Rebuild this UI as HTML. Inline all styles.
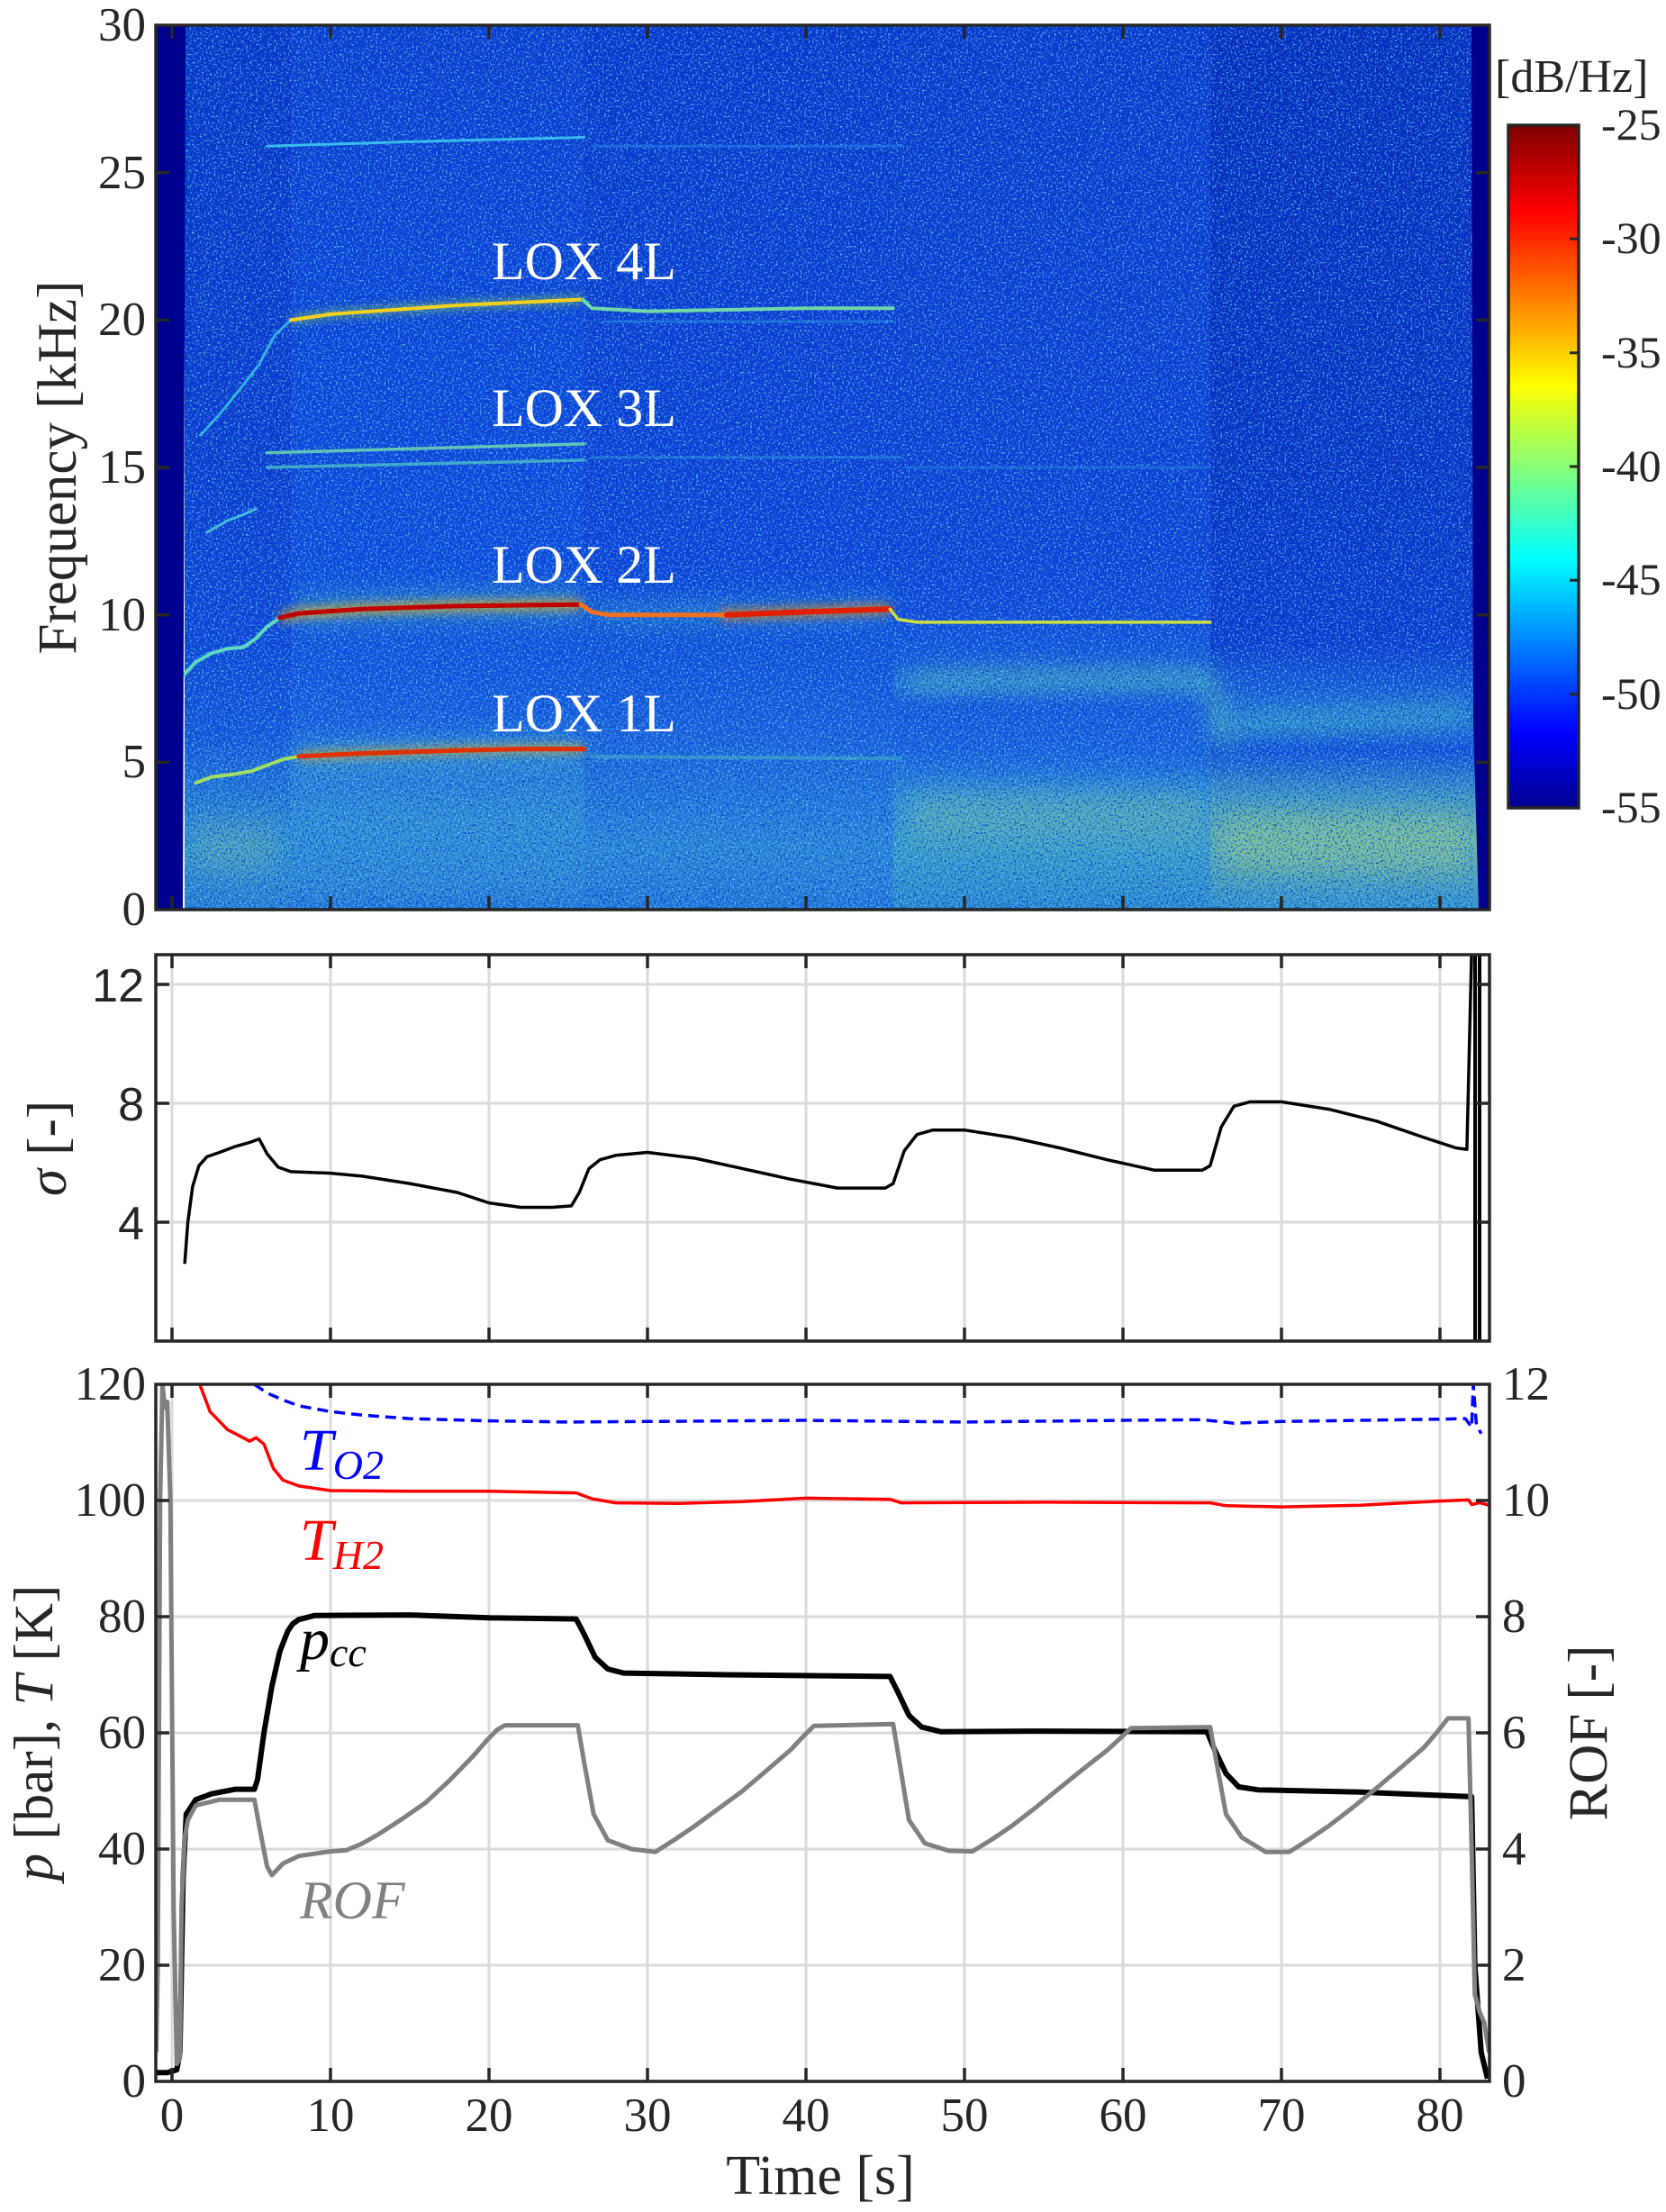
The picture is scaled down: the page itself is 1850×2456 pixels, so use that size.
<!DOCTYPE html>
<html>
<head>
<meta charset="utf-8">
<style>
html,body{margin:0;padding:0;background:#fff;}
svg{display:block;}
</style>
</head>
<body>
<svg width="1850" height="2456" viewBox="0 0 1850 2456" xmlns="http://www.w3.org/2000/svg">
<defs>
  <linearGradient id="gA" x1="0" y1="28" x2="0" y2="1010" gradientUnits="userSpaceOnUse">
    <stop offset="0" stop-color="#0a3cd0"/>
    <stop offset="0.267" stop-color="#0b42d8"/>
    <stop offset="0.6" stop-color="#0e4ade"/>
    <stop offset="0.733" stop-color="#1456e0"/>
    <stop offset="0.807" stop-color="#1a64e0"/>
    <stop offset="0.833" stop-color="#2476dc"/>
    <stop offset="0.9" stop-color="#3290d4"/>
    <stop offset="0.967" stop-color="#2e88d6"/>
    <stop offset="1" stop-color="#2478d8"/>
  </linearGradient>
  <linearGradient id="gA1" x1="0" y1="28" x2="0" y2="1010" gradientUnits="userSpaceOnUse">
    <stop offset="0" stop-color="#0834c8"/>
    <stop offset="0.5" stop-color="#0a3ad0"/>
    <stop offset="0.7" stop-color="#0e46d8"/>
    <stop offset="0.8" stop-color="#1656dc"/>
    <stop offset="0.85" stop-color="#2070d8"/>
    <stop offset="0.93" stop-color="#3494cc"/>
    <stop offset="1" stop-color="#2a80d4"/>
  </linearGradient>
  <linearGradient id="gB" x1="0" y1="28" x2="0" y2="1010" gradientUnits="userSpaceOnUse">
    <stop offset="0" stop-color="#0836cc"/>
    <stop offset="0.33" stop-color="#0a3cd2"/>
    <stop offset="0.6" stop-color="#0c42d8"/>
    <stop offset="0.73" stop-color="#1454dc"/>
    <stop offset="0.8" stop-color="#1a62de"/>
    <stop offset="0.85" stop-color="#2070dc"/>
    <stop offset="0.93" stop-color="#2c86d8"/>
    <stop offset="1" stop-color="#2478d8"/>
  </linearGradient>
  <linearGradient id="gC" x1="0" y1="28" x2="0" y2="1010" gradientUnits="userSpaceOnUse">
    <stop offset="0" stop-color="#0938cc"/>
    <stop offset="0.6" stop-color="#0c42d6"/>
    <stop offset="0.66" stop-color="#1048da"/>
    <stop offset="0.72" stop-color="#1658dc"/>
    <stop offset="0.745" stop-color="#2478d8"/>
    <stop offset="0.77" stop-color="#1658dc"/>
    <stop offset="0.82" stop-color="#1862de"/>
    <stop offset="0.87" stop-color="#2e8ad4"/>
    <stop offset="0.93" stop-color="#3ea2c8"/>
    <stop offset="1" stop-color="#2c8ad0"/>
  </linearGradient>
  <linearGradient id="gD" x1="0" y1="28" x2="0" y2="1010" gradientUnits="userSpaceOnUse">
    <stop offset="0" stop-color="#062cbc"/>
    <stop offset="0.5" stop-color="#0832c4"/>
    <stop offset="0.7" stop-color="#0a3ace"/>
    <stop offset="0.77" stop-color="#1e6cd8"/>
    <stop offset="0.79" stop-color="#2278d6"/>
    <stop offset="0.82" stop-color="#1450d8"/>
    <stop offset="0.87" stop-color="#3e96c4"/>
    <stop offset="0.92" stop-color="#62b2ac"/>
    <stop offset="0.97" stop-color="#48a0c0"/>
    <stop offset="1" stop-color="#3494cc"/>
  </linearGradient>
  <linearGradient id="jet" x1="0" y1="897" x2="0" y2="139" gradientUnits="userSpaceOnUse">
    <stop offset="0" stop-color="#00008f"/>
    <stop offset="0.111" stop-color="#0000ff"/>
    <stop offset="0.365" stop-color="#00ffff"/>
    <stop offset="0.619" stop-color="#ffff00"/>
    <stop offset="0.873" stop-color="#ff0000"/>
    <stop offset="1" stop-color="#800000"/>
  </linearGradient>
  <filter id="nz" x="0" y="0" width="100%" height="100%">
    <feTurbulence type="fractalNoise" baseFrequency="0.45" numOctaves="2" seed="3" result="t"/>
    <feColorMatrix in="t" type="matrix" values="0 0 0 0 0.15  0 0 0 0 0.65  0 0 0 0 1  2.6 0 0 0 -1.36" result="light"/>
    <feColorMatrix in="t" type="matrix" values="0 0 0 0 0  0 0 0 0 0.05  0 0 0 0 0.55  0 3 0 0 -1.45" result="dark"/>
    <feMerge><feMergeNode in="dark"/><feMergeNode in="light"/></feMerge>
  </filter>
  <filter id="bl" x="-10%" y="-50%" width="120%" height="200%"><feGaussianBlur stdDeviation="5"/></filter>
  <filter id="bl2" x="-10%" y="-100%" width="120%" height="300%"><feGaussianBlur stdDeviation="12"/></filter>
  <clipPath id="cs"><rect x="173" y="28" width="1481" height="982"/></clipPath>
  <clipPath id="cg"><rect x="173" y="1060" width="1481" height="429"/></clipPath>
  <clipPath id="cb"><rect x="173" y="1537" width="1481" height="774"/></clipPath>
</defs>

<!-- ===================== SPECTROGRAM ===================== -->
<g clip-path="url(#cs)">
  <rect x="205" y="28" width="120" height="982" fill="url(#gA1)"/>
  <rect x="323" y="28" width="328" height="982" fill="url(#gA)"/>
  <rect x="649" y="28" width="345" height="982" fill="url(#gB)"/>
  <rect x="992" y="28" width="354" height="982" fill="url(#gC)"/>
  <rect x="1344" y="28" width="310" height="982" fill="url(#gD)"/>

  <!-- broad bands -->
  <g filter="url(#bl2)" opacity="0.45">
    <polyline points="1010,755 1100,752 1250,750 1340,752 1352,790 1365,830" fill="none" stroke="#5cc8a8" stroke-width="24"/>
    <polyline points="1375,804 1450,800 1550,795 1630,790" fill="none" stroke="#4ab8b8" stroke-width="24"/>
    <rect x="1010" y="880" width="330" height="50" fill="#7ccaa0"/>
    <rect x="1360" y="900" width="270" height="70" fill="#a0d080"/>
    <polyline points="330,678 500,672 645,671" fill="none" stroke="#50c0b0" stroke-width="36"/>
    <polyline points="330,840 500,834 645,832" fill="none" stroke="#50b8c0" stroke-width="36"/>
    <polyline points="660,682 900,680 988,677" fill="none" stroke="#40b0c8" stroke-width="28"/>
  </g>
  <g filter="url(#bl2)" opacity="0.25">
    <rect x="215" y="910" width="90" height="60" fill="#90d090"/>
  </g>

  <!-- noise speckle -->
  <rect x="205" y="28" width="1431" height="982" fill="#000" filter="url(#nz)"/>

  <!-- glows -->
  <g filter="url(#bl)" fill="none">
    <polyline points="310.7,686 331.8,681.1 402.2,676.2 507.8,672.9 645.1,671.2" stroke="#ffb000" stroke-width="12" opacity="0.6"/>
    <polyline points="331.8,839.8 402.2,836.5 507.8,833.3 578.2,831.6 648.6,831.6" stroke="#ffb000" stroke-width="10" opacity="0.5"/>
    <polyline points="323,355.4 367,348.9 507.8,339 646.8,332.5" stroke="#a0e040" stroke-width="9" opacity="0.5"/>
    <polyline points="800,682.7 895,679.4 988.3,676.2" stroke="#ff8000" stroke-width="12" opacity="0.6"/>
  </g>

  <!-- harmonic lines -->
  <g fill="none" stroke-linejoin="round" stroke-linecap="round">
    <polyline points="296.6,162.3 455,157.4 648.6,152.5" stroke="#40d0f0" stroke-width="3" opacity="0.85"/>
    <polyline points="657.4,162.3 1000.6,162.3" stroke="#2a90f0" stroke-width="3" opacity="0.5"/>
    <polyline points="222.7,483 243.8,460.1 270.2,427.4 287.8,404.5 296.6,388.1 305.4,371.8 323,355.4" stroke="#40c8e8" stroke-width="3" opacity="0.8"/>
    <polyline points="323,355.4 367,348.9 507.8,339 646.8,332.5" stroke="#f0d020" stroke-width="4"/>
    <polyline points="646.8,332.5 657.4,342.3 719,345.6 895,342.3 991.8,342.3" stroke="#70d8a8" stroke-width="4"/>
    <polyline points="670,357 991.8,357" stroke="#2a98e8" stroke-width="3" opacity="0.5"/>
    <polyline points="296.6,502.7 648.6,492.9" stroke="#70d8b0" stroke-width="3.5" opacity="0.85"/>
    <polyline points="296.6,519 648.6,510.9" stroke="#50c8c8" stroke-width="3.5" opacity="0.75"/>
    <polyline points="657.4,507.7 1000.6,507.7" stroke="#30a0e0" stroke-width="3" opacity="0.5"/>
    <polyline points="1005,519 1344,519" stroke="#2a90e0" stroke-width="3" opacity="0.45"/>
    <polyline points="229.7,591.1 252.6,578 270.2,571.4 284.3,564.9" stroke="#50d0e0" stroke-width="3" opacity="0.85"/>
    <polyline points="205.1,748.2 217.4,735.1 235,725.2 252.6,720.3 270.2,718.7 284.3,708.9 296.6,695.8 310.7,686" stroke="#60d8c0" stroke-width="4"/>
    <polyline points="310.7,686 331.8,681.1 402.2,676.2 507.8,672.9 645.1,671.2" stroke="#c00000" stroke-width="5"/>
    <polyline points="645.1,671.2 657.4,679.4 675,682.7 807,682.7" stroke="#f07020" stroke-width="5"/>
    <polyline points="807,682.7 895,679.4 988.3,676.2" stroke="#e02000" stroke-width="6"/>
    <polyline points="988.3,676.2 997.1,687.6 1018.2,690.9 1343.8,690.9" stroke="#d0e040" stroke-width="3.5"/>
    <polyline points="217.4,869.3 235,862.7 261.4,859.4 279,856.2 296.6,849.6 314.2,843.1 331.8,839.8" stroke="#a0e060" stroke-width="4"/>
    <polyline points="331.8,839.8 402.2,836.5 507.8,833.3 578.2,831.6 648.6,831.6" stroke="#e03000" stroke-width="5"/>
    <polyline points="657.4,840 1000.6,842" stroke="#50c0c0" stroke-width="4" opacity="0.45"/>
  </g>

  <!-- dark strips -->
  <polygon points="173,28 206,28 203,1010 173,1010" fill="#00008f"/>
  <polygon points="1634,28 1654,28 1654,1010 1642,1010 1636,800" fill="#00008f"/>
</g>

<!-- LOX labels -->
<g font-family="Liberation Serif, serif" font-size="60" fill="#ffffff">
  <text x="546" y="310">LOX 4L</text>
  <text x="546" y="473">LOX 3L</text>
  <text x="546" y="647">LOX 2L</text>
  <text x="546" y="812">LOX 1L</text>
</g>

<!-- spectrogram axes -->
<rect x="173" y="28" width="1481" height="982" fill="none" stroke="#262626" stroke-width="3.5"/>
<path d="M191 28v15M367 28v15M543 28v15M719 28v15M895 28v15M1071 28v15M1247 28v15M1423 28v15M1599 28v15
M191 1010v-15M367 1010v-15M543 1010v-15M719 1010v-15M895 1010v-15M1071 1010v-15M1247 1010v-15M1423 1010v-15M1599 1010v-15
M173 191.6h15M173 355.4h15M173 519h15M173 682.7h15M173 846.4h15
M1654 191.6h-15M1654 355.4h-15M1654 519h-15M1654 682.7h-15M1654 846.4h-15" stroke="#262626" stroke-width="3.5" fill="none"/>
<g font-family="Liberation Serif, serif" font-size="53" fill="#262626" text-anchor="end">
  <text x="162" y="45">30</text>
  <text x="162" y="209">25</text>
  <text x="162" y="372">20</text>
  <text x="162" y="536">15</text>
  <text x="162" y="700">10</text>
  <text x="162" y="863">5</text>
  <text x="162" y="1027">0</text>
</g>
<text font-family="Liberation Serif, serif" font-size="61" fill="#262626" text-anchor="middle" transform="translate(84,519) rotate(-90)">Frequency [kHz]</text>

<!-- colorbar -->
<rect x="1675" y="139" width="78" height="758" fill="url(#jet)" stroke="#262626" stroke-width="3.5"/>
<path d="M1753 265.3h-10M1753 391.7h-10M1753 518h-10M1753 644.3h-10M1753 770.7h-10" stroke="#262626" stroke-width="3"/>
<g font-family="Liberation Serif, serif" font-size="50" fill="#262626">
  <text x="1778" y="155">-25</text>
  <text x="1778" y="281">-30</text>
  <text x="1778" y="408">-35</text>
  <text x="1778" y="534">-40</text>
  <text x="1778" y="660">-45</text>
  <text x="1778" y="787">-50</text>
  <text x="1778" y="913">-55</text>
</g>
<text font-family="Liberation Serif, serif" font-size="52" fill="#262626" x="1660" y="102">[dB/Hz]</text>

<!-- ===================== SIGMA PANEL ===================== -->
<g stroke="#dadada" stroke-width="3" fill="none">
  <path d="M191 1060V1489M367 1060V1489M543 1060V1489M719 1060V1489M895 1060V1489M1071 1060V1489M1247 1060V1489M1423 1060V1489M1599 1060V1489
  M173 1093H1654M173 1225H1654M173 1357H1654"/>
</g>
<g clip-path="url(#cg)" fill="none" stroke="#000" stroke-width="3.5" stroke-linejoin="round">
  <polyline points="205.1,1403.2 208.6,1357 213.9,1317.4 220.9,1294.3 229.7,1284.4 243.8,1279.5 261.4,1272.9 279,1267.9 287.8,1264.6 296.6,1281.1 308.9,1295.9 323,1300.9 367,1302.6 402.2,1305.9 455,1314.1 507.8,1324 543,1335.6 578.2,1340.5 613.4,1340.5 634.5,1338.9 643.3,1324 653.9,1297.6 666.2,1287.7 683.8,1282.8 719,1279.5 771.8,1286 824.6,1297.6 877.4,1309.2 930.2,1319.1 983,1319.1 991.8,1314.1 1004.1,1277.8 1018.2,1259.7 1035.8,1254.7 1071,1254.7 1123.8,1263 1176.6,1274.5 1229.4,1287.7 1282.2,1299.3 1335,1299.3 1343.8,1294.3 1356.1,1251.4 1370.2,1228.3 1387.8,1223.4 1423,1223.4 1475.8,1231.6 1528.6,1244.8 1581.4,1263 1616.6,1274.5 1628.9,1276.2 1634.2,1055"/>
  <path d="M1638 1060V1489M1643 1060V1489" stroke-width="4"/>
</g>
<rect x="173" y="1060" width="1481" height="429" fill="none" stroke="#262626" stroke-width="3.5"/>
<path d="M191 1060v15M367 1060v15M543 1060v15M719 1060v15M895 1060v15M1071 1060v15M1247 1060v15M1423 1060v15M1599 1060v15
M191 1489v-15M367 1489v-15M543 1489v-15M719 1489v-15M895 1489v-15M1071 1489v-15M1247 1489v-15M1423 1489v-15M1599 1489v-15
M173 1093h15M173 1225h15M173 1357h15M1654 1093h-15M1654 1225h-15M1654 1357h-15" stroke="#262626" stroke-width="3.5" fill="none"/>
<g font-family="Liberation Sans, sans-serif" font-size="52" fill="#262626" text-anchor="end">
  <text x="160" y="1112">12</text>
  <text x="160" y="1244">8</text>
  <text x="160" y="1376">4</text>
</g>
<text font-family="Liberation Serif, serif" font-size="61" fill="#262626" text-anchor="middle" transform="translate(73,1275) rotate(-90)"><tspan font-style="italic">σ</tspan> [-]</text>

<!-- ===================== BOTTOM PANEL ===================== -->
<g stroke="#dadada" stroke-width="3" fill="none">
  <path d="M191 1537V2311M367 1537V2311M543 1537V2311M719 1537V2311M895 1537V2311M1071 1537V2311M1247 1537V2311M1423 1537V2311M1599 1537V2311
  M173 1666H1654M173 1795H1654M173 1924H1654M173 2053H1654M173 2182H1654"/>
</g>
<g clip-path="url(#cb)" fill="none" stroke-linejoin="round">
  <polyline points="282.5,1537 296.6,1546.7 314.2,1554.4 331.8,1560.9 367,1567.3 402.2,1571.2 455,1575.1 543,1577.6 631,1578.9 719,1578.3 895,1577 1071,1578.9 1247,1577 1335,1576.3 1370.2,1580.2 1423,1578.3 1599,1575.7 1627.2,1575.1 1634.2,1584.7 1636,1537 1639.5,1582.1 1644.8,1591.8" stroke="#0000ff" stroke-width="3.5" stroke-dasharray="12 7"/>
  <polyline points="221.8,1537 233.2,1567.3 252.6,1587.3 277.2,1600.2 284.3,1596.3 293.1,1603.4 303.6,1630.5 314.2,1643.4 331.8,1649.9 367,1655 455,1655.7 543,1655.7 639.8,1657.6 657.4,1664.1 683.8,1668.6 754.2,1669.2 824.6,1667.3 895,1663.4 988.3,1664.7 1000.6,1668.6 1159,1667.9 1343.8,1668.6 1361.4,1671.8 1423,1673.1 1511,1671.2 1599,1666.6 1630.7,1665.4 1634.2,1670.5 1643,1668.6 1653.6,1671.2" stroke="#ff0000" stroke-width="3.5"/>
  <polyline points="173.4,2301.3 185.7,2301.3 196.3,2298.1 199.8,2278.8 203.3,2085.3 206.8,2014.3 217.4,1998.2 235,1991.7 261.4,1986.6 282.5,1986.6 286,1975.6 293.1,1924 301.9,1872.4 310.7,1833.7 319.5,1811.1 325,1803 331.8,1798.2 349.4,1793.7 455,1793.1 543,1796.3 639.8,1797.6 648.6,1814.4 660.9,1840.2 675,1853.1 692.6,1857.6 807,1859.5 988.3,1861.4 997.1,1878.9 1009.4,1904.7 1023.5,1917.6 1044.6,1922.7 1159,1922.1 1340.3,1922.7 1349.1,1943.4 1361.4,1969.2 1375.5,1984 1396.6,1987.2 1511,1989.8 1634.2,1994.9 1637.7,2182 1644.8,2278.8 1651.8,2307.8" stroke="#000000" stroke-width="6"/>
  <polyline points="173.4,2278.8 175.2,2182 177.8,1666 180.4,1537 183.1,1562.8 185.7,1556.4 189.2,1666 192.8,2117.5 196.3,2291.7 199.8,2285.2 201.6,2117.5 205.1,2040.1 208.6,2020.8 217.4,2004.6 243.8,1998.2 282.5,1998.2 287.8,2027.2 296.6,2072.4 301.9,2082 314.2,2069.1 331.8,2060.7 367,2055.6 384.6,2054.3 402,2047 419.8,2036.9 446,2020 472.6,2001.4 499,1977 525.4,1949.8 540,1933 551.8,1920.8 560.6,1915.6 641.6,1915.6 648.6,1956.3 659.2,2014.3 675,2043.3 701.4,2053 727.8,2056.2 750,2042 771.8,2027.2 798,2008 824.6,1988.5 851,1966 877.4,1943.4 892,1928 903.8,1916.3 991.8,1914.3 998.8,1956.3 1009.4,2020.8 1027,2046.6 1053.4,2054.9 1079.8,2055.6 1102,2042 1123.8,2027.2 1150,2007 1176.6,1985.3 1203,1964 1229.4,1943.4 1244,1930 1255.8,1918.8 1343.8,1917.6 1350.8,1956.3 1361.4,2014.3 1379,2040.1 1405.4,2056.2 1431.8,2056.2 1454,2042 1475.8,2027.2 1502,2007 1528.6,1985.3 1555,1963 1581.4,1940.1 1596,1923 1607.8,1907.9 1630.7,1907.9 1634.2,2053 1637.7,2214.3 1643,2233.6 1648.3,2246.5 1653.6,2278.8" stroke="#808080" stroke-width="5"/>
</g>
<rect x="173" y="1537" width="1481" height="774" fill="none" stroke="#262626" stroke-width="3.5"/>
<path d="M191 1537v15M367 1537v15M543 1537v15M719 1537v15M895 1537v15M1071 1537v15M1247 1537v15M1423 1537v15M1599 1537v15
M191 2311v-15M367 2311v-15M543 2311v-15M719 2311v-15M895 2311v-15M1071 2311v-15M1247 2311v-15M1423 2311v-15M1599 2311v-15
M173 1666h15M173 1795h15M173 1924h15M173 2053h15M173 2182h15
M1654 1666h-15M1654 1795h-15M1654 1924h-15M1654 2053h-15M1654 2182h-15" stroke="#262626" stroke-width="3.5" fill="none"/>
<g font-family="Liberation Serif, serif" font-size="53" fill="#262626" text-anchor="end">
  <text x="162" y="1554">120</text>
  <text x="162" y="1683">100</text>
  <text x="162" y="1812">80</text>
  <text x="162" y="1941">60</text>
  <text x="162" y="2070">40</text>
  <text x="162" y="2199">20</text>
  <text x="162" y="2328">0</text>
</g>
<g font-family="Liberation Serif, serif" font-size="53" fill="#262626">
  <text x="1668" y="1554">12</text>
  <text x="1668" y="1683">10</text>
  <text x="1668" y="1812">8</text>
  <text x="1668" y="1941">6</text>
  <text x="1668" y="2070">4</text>
  <text x="1668" y="2199">2</text>
  <text x="1668" y="2328">0</text>
</g>
<g font-family="Liberation Serif, serif" font-size="53" fill="#262626" text-anchor="middle">
  <text x="191" y="2366">0</text>
  <text x="367" y="2366">10</text>
  <text x="543" y="2366">20</text>
  <text x="719" y="2366">30</text>
  <text x="895" y="2366">40</text>
  <text x="1071" y="2366">50</text>
  <text x="1247" y="2366">60</text>
  <text x="1423" y="2366">70</text>
  <text x="1599" y="2366">80</text>
</g>
<text font-family="Liberation Serif, serif" font-size="62" fill="#262626" text-anchor="middle" x="911" y="2436">Time [s]</text>
<text font-family="Liberation Serif, serif" font-size="61" fill="#262626" text-anchor="middle" transform="translate(58,1924) rotate(-90)"><tspan font-style="italic">p</tspan> [bar], <tspan font-style="italic">T</tspan> [K]</text>
<text font-family="Liberation Serif, serif" font-size="61" fill="#262626" text-anchor="middle" transform="translate(1784,1924) rotate(-90)">ROF [-]</text>

<g font-family="Liberation Serif, serif" font-style="italic">
  <text x="333" y="1632" font-size="66" fill="#0000ff">T<tspan font-size="46" dy="10">O2</tspan></text>
  <text x="333" y="1732" font-size="66" fill="#ff0000">T<tspan font-size="46" dy="10">H2</tspan></text>
  <text x="333" y="1842" font-size="66" fill="#000000">p<tspan font-size="46" dy="8">cc</tspan></text>
  <text x="333" y="2130" font-size="60" fill="#808080">ROF</text>
</g>
</svg>
</body>
</html>
